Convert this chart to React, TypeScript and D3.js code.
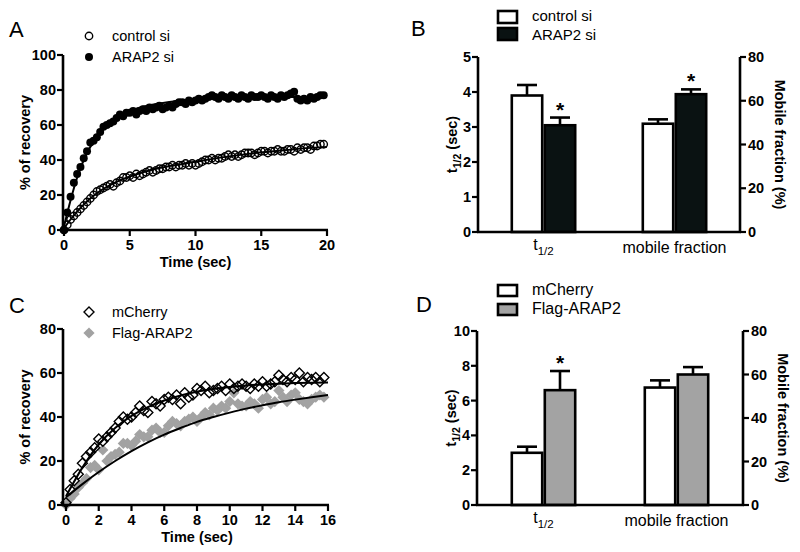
import * as d3 from "d3";

const FONT = "'Liberation Sans', Arial, Helvetica, sans-serif";

// ---- Panel A: FRAP recovery, one frame every 0.25 s ----
const frameA = 0.25;
const controlSi = [
  0, 3, 6, 8, 10, 12, 14, 16, 18, 20, 22, 23, 24, 25, 26, 25,
  27, 28, 30, 30, 31, 30, 32, 31, 32, 33, 34, 33, 34, 35, 35, 36,
  36, 37, 36, 37, 37, 38, 37, 38, 37, 38, 39, 40, 40, 41, 40, 41,
  41, 42, 43, 42, 43, 42, 43, 44, 44, 44, 43, 44, 45, 45, 44, 45,
  45, 46, 45, 45, 46, 46, 45, 47, 46, 47, 47, 46, 48, 48, 49, 49,
];
const arap2Si = [
  0, 10, 19, 27, 32, 36, 41, 45, 50, 51, 53, 56, 59, 60, 61, 62,
  64, 66, 65, 67, 67, 68, 66, 68, 69, 68, 70, 69, 70, 71, 69, 70,
  71, 70, 72, 73, 73, 72, 74, 73, 74, 75, 74, 75, 76, 77, 76, 75,
  77, 76, 75, 77, 76, 75, 77, 76, 75, 77, 76, 76, 77, 76, 75, 77,
  76, 75, 77, 76, 77, 78, 79, 75, 74, 75, 74, 76, 75, 76, 77, 77,
];
const fitTimesA = [0, 0.5, 1, 1.5, 2, 2.5, 3, 3.5, 4, 5, 6, 7, 8, 10, 12, 14, 16, 18, 20];
const fitControlSi = [1, 6, 10.5, 14.5, 18, 21, 23.5, 25.6, 27.5, 30.5, 33, 35, 36.5, 39, 41.5, 43.5, 45, 46.5, 47.5];
const fitArap2Si = [2, 17, 30, 40, 47.5, 53, 57.5, 61, 64, 68, 70.5, 72, 73.2, 74.5, 75.3, 75.7, 75.9, 76, 76.2];

// ---- Panel C ----
const frameC = 0.25;
const mCherry = [
  1, 7, 11, 14, 19, 22, 24, 26, 30, 29, 31, 33, 35, 38, 40, 39,
  40, 42, 45, 43, 42, 47, 46, 45, 48, 49, 48, 50, 46, 51, 49, 50,
  53, 52, 54, 51, 52, 53, 54, 52, 55, 53, 54, 55, 54, 53, 55, 54,
  56, 54, 55, 56, 59, 57, 56, 58, 57, 60, 56, 58, 57, 58, 56, 58,
];
const flagArap2 = [
  0, 3, 5, 8, 10, 12, 17, 18, 16, 25, 20, 22, 23, 24, 28, 28,
  27, 29, 32, 31, 31, 34, 35, 33, 33, 36, 38, 37, 36, 38, 39, 40,
  38, 40, 42, 41, 44, 43, 45, 44, 47, 51, 46, 45, 45, 47, 46, 44,
  48, 49, 46, 47, 52, 49, 47, 50, 51, 48, 47, 46, 48, 49, 50, 49,
];
const fitTimesC = [0, 1, 2, 3, 4, 5, 6, 7, 8, 9, 10, 11, 12, 13, 14, 15, 16];
const fitMCherry = [4, 17, 27.5, 35, 40.5, 44.5, 47.5, 49.8, 51.5, 52.7, 53.6, 54.3, 54.8, 55.1, 55.4, 55.6, 55.7];
const fitFlagArap2 = [3.5, 9.5, 15, 20, 24.5, 28.5, 32, 35, 37.8, 40, 42, 43.8, 45.3, 46.7, 47.9, 49, 50];

// ---- Panels B and D: bars ----
const barCategories = ["t1/2", "mobile fraction"];
const seriesB = ["control si", "ARAP2 si"];
const halfTimeB = [3.9, 3.05];
const halfTimeErrB = [0.3, 0.22];
const mobileB = [49.5, 63];
const mobileErrB = [2, 2.2];
const starB = [[false, true], [false, true]];

const seriesD = ["mCherry", "Flag-ARAP2"];
const halfTimeD = [3.0, 6.6];
const halfTimeErrD = [0.35, 1.1];
const mobileD = [54, 60];
const mobileErrD = [3.3, 3.4];
const starD = [[false, true], [false, false]];

const leftTicksB = [0, 1, 2, 3, 4, 5];
const leftTicksD = [0, 2, 4, 6, 8, 10];
const rightTicks = [0, 20, 40, 60, 80];

const AX = 2.6;
const TICK_FS = 14.5;

function Half({ size }: { size: number }) {
  return (
    <>
      t<tspan fontSize={size * 0.72} dy={size * 0.3}>1/2</tspan>
    </>
  );
}

type ScatterProps = {
  letter: string;
  oy: number;
  xMax: number;
  xTicks: number[];
  xRange: [number, number];
  yMax: number;
  yTicks: number[];
  yRange: [number, number];
  axisX: number;
  series: { values: number[]; frame: number; marker: string }[];
  fits: { t: number[]; v: number[] }[];
  legend: { label: string; marker: string }[];
};

function Marker({ kind, x, y }: { kind: string; x: number; y: number }) {
  if (kind === "open-circle")
    return <circle cx={x} cy={y} r={3.7} fill="none" stroke="#000" strokeWidth={1.4} />;
  if (kind === "filled-circle") return <circle cx={x} cy={y} r={4} fill="#000" />;
  const s = kind === "open-diamond" ? 5 : 5.6;
  const d = `M${x},${y - s}L${x + s},${y}L${x},${y + s}L${x - s},${y}Z`;
  if (kind === "open-diamond") return <path d={d} fill="none" stroke="#000" strokeWidth={1.4} />;
  return <path d={d} fill="#a2a2a2" />;
}

function ScatterPanel(p: ScatterProps) {
  const x = d3.scaleLinear().domain([0, p.xMax]).range(p.xRange);
  const y = d3.scaleLinear().domain([0, p.yMax]).range(p.yRange);
  const y0 = p.yRange[0];
  return (
    <g transform={`translate(0,${p.oy})`} fontFamily={FONT}>
      <text x={9} y={37} fontSize={22}>{p.letter}</text>
      {p.series.map((s, si) => (
        <g key={si}>
          {s.values.map((v, i) => (
            <Marker key={i} kind={s.marker} x={x(i * s.frame)} y={y(v)} />
          ))}
        </g>
      ))}
      {p.fits.map((f, fi) => {
        const path = d3
          .line<number>()
          .x((_, i) => x(f.t[i]))
          .y((v) => y(v))
          .curve(d3.curveMonotoneX)(f.v);
        return <path key={fi} d={path ?? ""} fill="none" stroke="#000" strokeWidth={2} />;
      })}
      {/* axes */}
      <line x1={p.axisX} x2={p.axisX} y1={p.yRange[1]} y2={y0 + AX / 2} stroke="#000" strokeWidth={AX} />
      <line x1={p.axisX} x2={p.xRange[1] + 1} y1={y0} y2={y0} stroke="#000" strokeWidth={AX} />
      {p.yTicks.map((t) => (
        <g key={t}>
          <line x1={p.axisX - 6} x2={p.axisX} y1={y(t)} y2={y(t)} stroke="#000" strokeWidth={2.2} />
          <text x={p.axisX - 7} y={y(t) + 5} textAnchor="end" fontSize={TICK_FS} fontWeight="bold">{t}</text>
        </g>
      ))}
      {p.xTicks.map((t) => (
        <g key={t}>
          <line x1={x(t)} x2={x(t)} y1={y0} y2={y0 + 6} stroke="#000" strokeWidth={2.2} />
          <text x={x(t)} y={y0 + 20} textAnchor="middle" fontSize={TICK_FS} fontWeight="bold">{t}</text>
        </g>
      ))}
      <text x={(p.xRange[0] + p.xRange[1]) / 2} y={y0 + 37} textAnchor="middle" fontSize={14.5} fontWeight="bold">
        Time (sec)
      </text>
      <text
        transform={`translate(30,${(p.yRange[0] + p.yRange[1]) / 2}) rotate(-90)`}
        textAnchor="middle"
        fontSize={14.5}
        fontWeight="bold"
      >
        % of recovery
      </text>
      {p.legend.map((l, i) => (
        <g key={l.label}>
          <Marker kind={l.marker} x={89} y={36 + i * 21} />
          <text x={112} y={41 + i * 21} fontSize={14.5}>{l.label}</text>
        </g>
      ))}
    </g>
  );
}

type BarProps = {
  letter: string;
  letterX: number;
  oy: number;
  xL: number;
  xR: number;
  y0: number;
  yTop: number;
  leftMax: number;
  leftTicks: number[];
  series: string[];
  fills: string[];
  halfTime: number[];
  halfTimeErr: number[];
  mobile: number[];
  mobileErr: number[];
  stars: boolean[][];
  legendSize: number;
  legendRects: [number, number][];
  legendBase: number[];
};

function BarPanel(p: BarProps) {
  const yL = d3.scaleLinear().domain([0, p.leftMax]).range([p.y0, p.yTop]);
  const yR = d3.scaleLinear().domain([0, 80]).range([p.y0, p.yTop]);
  const x0 = d3.scaleBand().domain(barCategories).range([p.xL, p.xR]).padding(0);
  const bw = x0.bandwidth();
  const barW = 33;
  const x1 = d3.scaleBand().domain(p.series).range([bw / 2 - barW, bw / 2 + barW]);
  const groups = [
    { cat: barCategories[0], scale: yL, vals: p.halfTime, errs: p.halfTimeErr },
    { cat: barCategories[1], scale: yR, vals: p.mobile, errs: p.mobileErr },
  ];
  return (
    <g transform={`translate(0,${p.oy})`} fontFamily={FONT}>
      <text x={p.letterX} y={36} fontSize={22}>{p.letter}</text>
      {p.series.map((s, i) => (
        <g key={s}>
          <rect
            x={498}
            y={p.legendRects[i][0]}
            width={19}
            height={p.legendRects[i][1] - p.legendRects[i][0]}
            fill={p.fills[i]}
            stroke="#000"
            strokeWidth={2.6}
          />
          <text x={532} y={p.legendBase[i]} fontSize={p.legendSize}>{s}</text>
        </g>
      ))}
      {groups.map((g, gi) => (
        <g key={g.cat} transform={`translate(${x0(g.cat)},0)`}>
          {p.series.map((s, si) => {
            const bx = x1(s)!;
            const top = g.scale(g.vals[si]);
            const errTop = g.scale(g.vals[si] + g.errs[si]);
            const cx = bx + x1.bandwidth() / 2;
            return (
              <g key={s}>
                <line x1={cx} x2={cx} y1={top} y2={errTop} stroke="#000" strokeWidth={2.6} />
                <line x1={cx - 10} x2={cx + 10} y1={errTop} y2={errTop} stroke="#000" strokeWidth={2.6} />
                <rect
                  x={bx + 1.3}
                  y={top}
                  width={x1.bandwidth() - 2.6}
                  height={p.y0 - top}
                  fill={p.fills[si]}
                  stroke="#000"
                  strokeWidth={2.6}
                />
                {p.stars[gi][si] && (
                  <text x={cx} y={errTop - 1} textAnchor="middle" fontSize={21} fontWeight="bold">*</text>
                )}
              </g>
            );
          })}
        </g>
      ))}
      {/* axes */}
      <line x1={p.xL} x2={p.xL} y1={p.yTop} y2={p.y0} stroke="#000" strokeWidth={AX} />
      <line x1={p.xR} x2={p.xR} y1={p.yTop} y2={p.y0} stroke="#000" strokeWidth={AX} />
      <line x1={p.xL - 1} x2={p.xR + 1} y1={p.y0} y2={p.y0} stroke="#000" strokeWidth={AX} />
      {p.leftTicks.map((t) => (
        <g key={t}>
          <line x1={p.xL - 6} x2={p.xL} y1={yL(t)} y2={yL(t)} stroke="#000" strokeWidth={2.2} />
          <text x={p.xL - 7} y={yL(t) + 5} textAnchor="end" fontSize={TICK_FS} fontWeight="bold">{t}</text>
        </g>
      ))}
      {rightTicks.map((t) => (
        <g key={t}>
          <line x1={p.xR} x2={p.xR + 6} y1={yR(t)} y2={yR(t)} stroke="#000" strokeWidth={2.2} />
          <text x={p.xR + 8} y={yR(t) + 5} textAnchor="start" fontSize={TICK_FS} fontWeight="bold">{t}</text>
        </g>
      ))}
      <text x={x0(barCategories[0])! + bw / 2} y={p.y0 + 18} textAnchor="middle" fontSize={16}>
        <Half size={16} />
      </text>
      <text x={x0(barCategories[1])! + bw / 2} y={p.y0 + 21} textAnchor="middle" fontSize={16}>
        {barCategories[1]}
      </text>
      <text
        transform={`translate(${p.xL - 21},${(p.y0 + p.yTop) / 2}) rotate(-90)`}
        textAnchor="middle"
        fontSize={14.5}
        fontWeight="bold"
      >
        t<tspan fontSize={10.5} dy={4}>1/2</tspan>
        <tspan dy={-4}> (sec)</tspan>
      </text>
      <text
        transform={`translate(${p.xR + 35},${(p.y0 + p.yTop) / 2}) rotate(90)`}
        textAnchor="middle"
        fontSize={14.5}
        fontWeight="bold"
      >
        Mobile fraction (%)
      </text>
    </g>
  );
}

export default function App() {
  return (
    <svg
      width={800}
      height={552}
      style={{ position: "absolute", left: 0, top: 0, background: "#fff" }}
    >
      <ScatterPanel
        letter="A"
        oy={0}
        xMax={20}
        xTicks={[0, 5, 10, 15, 20]}
        xRange={[64, 327]}
        yMax={100}
        yTicks={[0, 20, 40, 60, 80, 100]}
        yRange={[230, 55]}
        axisX={63}
        series={[
          { values: controlSi, frame: frameA, marker: "open-circle" },
          { values: arap2Si, frame: frameA, marker: "filled-circle" },
        ]}
        fits={[
          { t: fitTimesA, v: fitControlSi },
          { t: fitTimesA, v: fitArap2Si },
        ]}
        legend={[
          { label: "control si", marker: "open-circle" },
          { label: "ARAP2 si", marker: "filled-circle" },
        ]}
      />
      <ScatterPanel
        letter="C"
        oy={276}
        xMax={16}
        xTicks={[0, 2, 4, 6, 8, 10, 12, 14, 16]}
        xRange={[66, 328]}
        yMax={80}
        yTicks={[0, 20, 40, 60, 80]}
        yRange={[229, 53]}
        axisX={63}
        series={[
          { values: flagArap2, frame: frameC, marker: "gray-diamond" },
          { values: mCherry, frame: frameC, marker: "open-diamond" },
        ]}
        fits={[
          { t: fitTimesC, v: fitMCherry },
          { t: fitTimesC, v: fitFlagArap2 },
        ]}
        legend={[
          { label: "mCherry", marker: "open-diamond" },
          { label: "Flag-ARAP2", marker: "gray-diamond" },
        ]}
      />
      <BarPanel
        letter="B"
        letterX={411}
        oy={0}
        xL={478}
        xR={740}
        y0={232}
        yTop={57}
        leftMax={5}
        leftTicks={leftTicksB}
        series={seriesB}
        fills={["#fff", "#0a1212"]}
        halfTime={halfTimeB}
        halfTimeErr={halfTimeErrB}
        mobile={mobileB}
        mobileErr={mobileErrB}
        stars={starB}
        legendSize={15}
        legendRects={[[11, 23], [28, 40]]}
        legendBase={[21, 40]}
      />
      <BarPanel
        letter="D"
        letterX={416}
        oy={276}
        xL={477}
        xR={743}
        y0={229}
        yTop={55}
        leftMax={10}
        leftTicks={leftTicksD}
        series={seriesD}
        fills={["#fff", "#a3a3a3"]}
        halfTime={halfTimeD}
        halfTimeErr={halfTimeErrD}
        mobile={mobileD}
        mobileErr={mobileErrD}
        stars={starD}
        legendSize={16}
        legendRects={[[9, 20], [28, 39]]}
        legendBase={[19, 38]}
      />
    </svg>
  );
}
